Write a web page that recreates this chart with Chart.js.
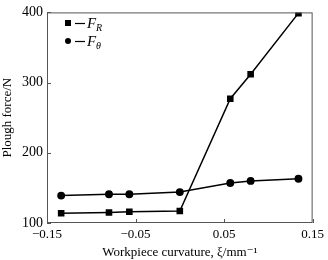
<!DOCTYPE html>
<html>
<head>
<meta charset="utf-8">
<script src="https://cdn.jsdelivr.net/npm/chart.js@4"></script>
<style>
  html, body { margin: 0; padding: 0; background: #fff; }
  #wrap { width: 328px; height: 260px; }
</style>
</head>
<body>
<div id="wrap"><canvas id="plough"></canvas></div>
<script>
var curvature = [-0.134, -0.08, -0.057, 0, 0.057, 0.08, 0.134];
var forceR = [114, 115, 116, 117, 277, 312, 399];
var forceTheta = [139, 141, 141, 144, 157, 160, 163];
var xTicks = [-0.15, -0.05, 0.05, 0.15];
var yTicks = [100, 200, 300, 400];

var serif = "'Liberation Serif', 'DejaVu Serif', serif";

function pts(ys) {
    return curvature.map(function (x, i) { return { x: x, y: ys[i] }; });
}

// box, inward ticks and the little legend
var frame = {
    id: "frame",
    afterDraw: function (chart) {
        var ctx = chart.ctx, a = chart.chartArea;
        var xs = chart.scales.x, ys = chart.scales.y;
        ctx.save();
        ctx.strokeStyle = "#555";
        ctx.lineWidth = 1;
        ctx.strokeRect(a.left + 0.5, a.top + 0.5, a.right - a.left - 1, a.bottom - a.top - 1);
        ctx.beginPath();
        xTicks.forEach(function (v) {
            var px = Math.round(xs.getPixelForValue(v)) + 0.5;
            ctx.moveTo(px, a.bottom);
            ctx.lineTo(px, a.bottom - 4);
        });
        yTicks.forEach(function (v) {
            var py = Math.round(ys.getPixelForValue(v)) + 0.5;
            ctx.moveTo(a.left, py);
            ctx.lineTo(a.left + 4, py);
        });
        ctx.stroke();

        // legend
        ctx.fillStyle = "#000";
        ctx.strokeStyle = "#000";
        ctx.lineWidth = 1.2;
        var rows = [
            { y: 23, sub: "R", square: true },
            { y: 41, sub: "\u03b8", square: false }
        ];
        rows.forEach(function (r) {
            if (r.square) {
                ctx.fillRect(65, r.y - 3, 6, 6);
            } else {
                ctx.beginPath();
                ctx.arc(68, r.y, 3, 0, Math.PI * 2);
                ctx.fill();
            }
            ctx.beginPath();
            ctx.moveTo(75, r.y + 0.5);
            ctx.lineTo(85, r.y + 0.5);
            ctx.stroke();
            ctx.textBaseline = "middle";
            ctx.textAlign = "left";
            ctx.font = "italic 15px " + serif;
            ctx.fillText("F", 87, r.y + 1);
            ctx.font = "italic 10px " + serif;
            ctx.fillText(r.sub, 96, r.y + 5);
        });
        ctx.restore();
    }
};

new Chart(document.getElementById("plough").getContext("2d"), {
    type: "scatter",
    data: {
        datasets: [
            {
                label: "F_R",
                data: pts(forceR),
                showLine: true,
                borderColor: "#000",
                backgroundColor: "#000",
                borderWidth: 1.5,
                pointStyle: "rect",
                pointRadius: 3.6,
                pointHoverRadius: 3.6,
            },
            {
                label: "F_theta",
                data: pts(forceTheta),
                showLine: true,
                borderColor: "#000",
                backgroundColor: "#000",
                borderWidth: 1.5,
                pointStyle: "circle",
                pointRadius: 3.2,
                pointHoverRadius: 3.2,
            },
        ],
    },
    options: {
        responsive: true,
        maintainAspectRatio: false,
        animation: false,
        layout: { padding: { top: 4, right: 8, left: 0, bottom: 0 } },
        plugins: {
            legend: { display: false },
            tooltip: { enabled: false },
        },
        scales: {
            x: {
                type: "linear",
                min: -0.15,
                max: 0.15,
                afterBuildTicks: function (s) {
                    s.ticks = xTicks.map(function (v) { return { value: v }; });
                },
                afterFit: function (s) { s.height = 37; },
                grid: { display: false, drawTicks: false },
                border: { display: false },
                ticks: {
                    color: "#000",
                    padding: 4,
                    maxRotation: 0,
                    font: { family: serif, size: 13 },
                    callback: function (v) {
                        return v < 0 ? "\u2212" + Math.abs(v).toFixed(2) : v.toFixed(2);
                    },
                },
                title: {
                    display: true,
                    text: "Workpiece curvature, \u03be/mm\u207b\u00b9",
                    color: "#000",
                    padding: { top: 2, bottom: 0 },
                    font: { family: serif, size: 13 },
                },
            },
            y: {
                min: 100,
                max: 400,
                afterBuildTicks: function (s) {
                    s.ticks = yTicks.map(function (v) { return { value: v }; });
                },
                afterFit: function (s) { s.width = 47; },
                grid: { display: false, drawTicks: false },
                border: { display: false },
                ticks: {
                    color: "#000",
                    padding: 4,
                    font: { family: serif, size: 14 },
                },
                title: {
                    display: true,
                    text: "Plough force/N",
                    color: "#000",
                    padding: { top: 0, bottom: 0 },
                    font: { family: serif, size: 13 },
                },
            },
        },
    },
    plugins: [frame],
});
</script>
</body>
</html>
